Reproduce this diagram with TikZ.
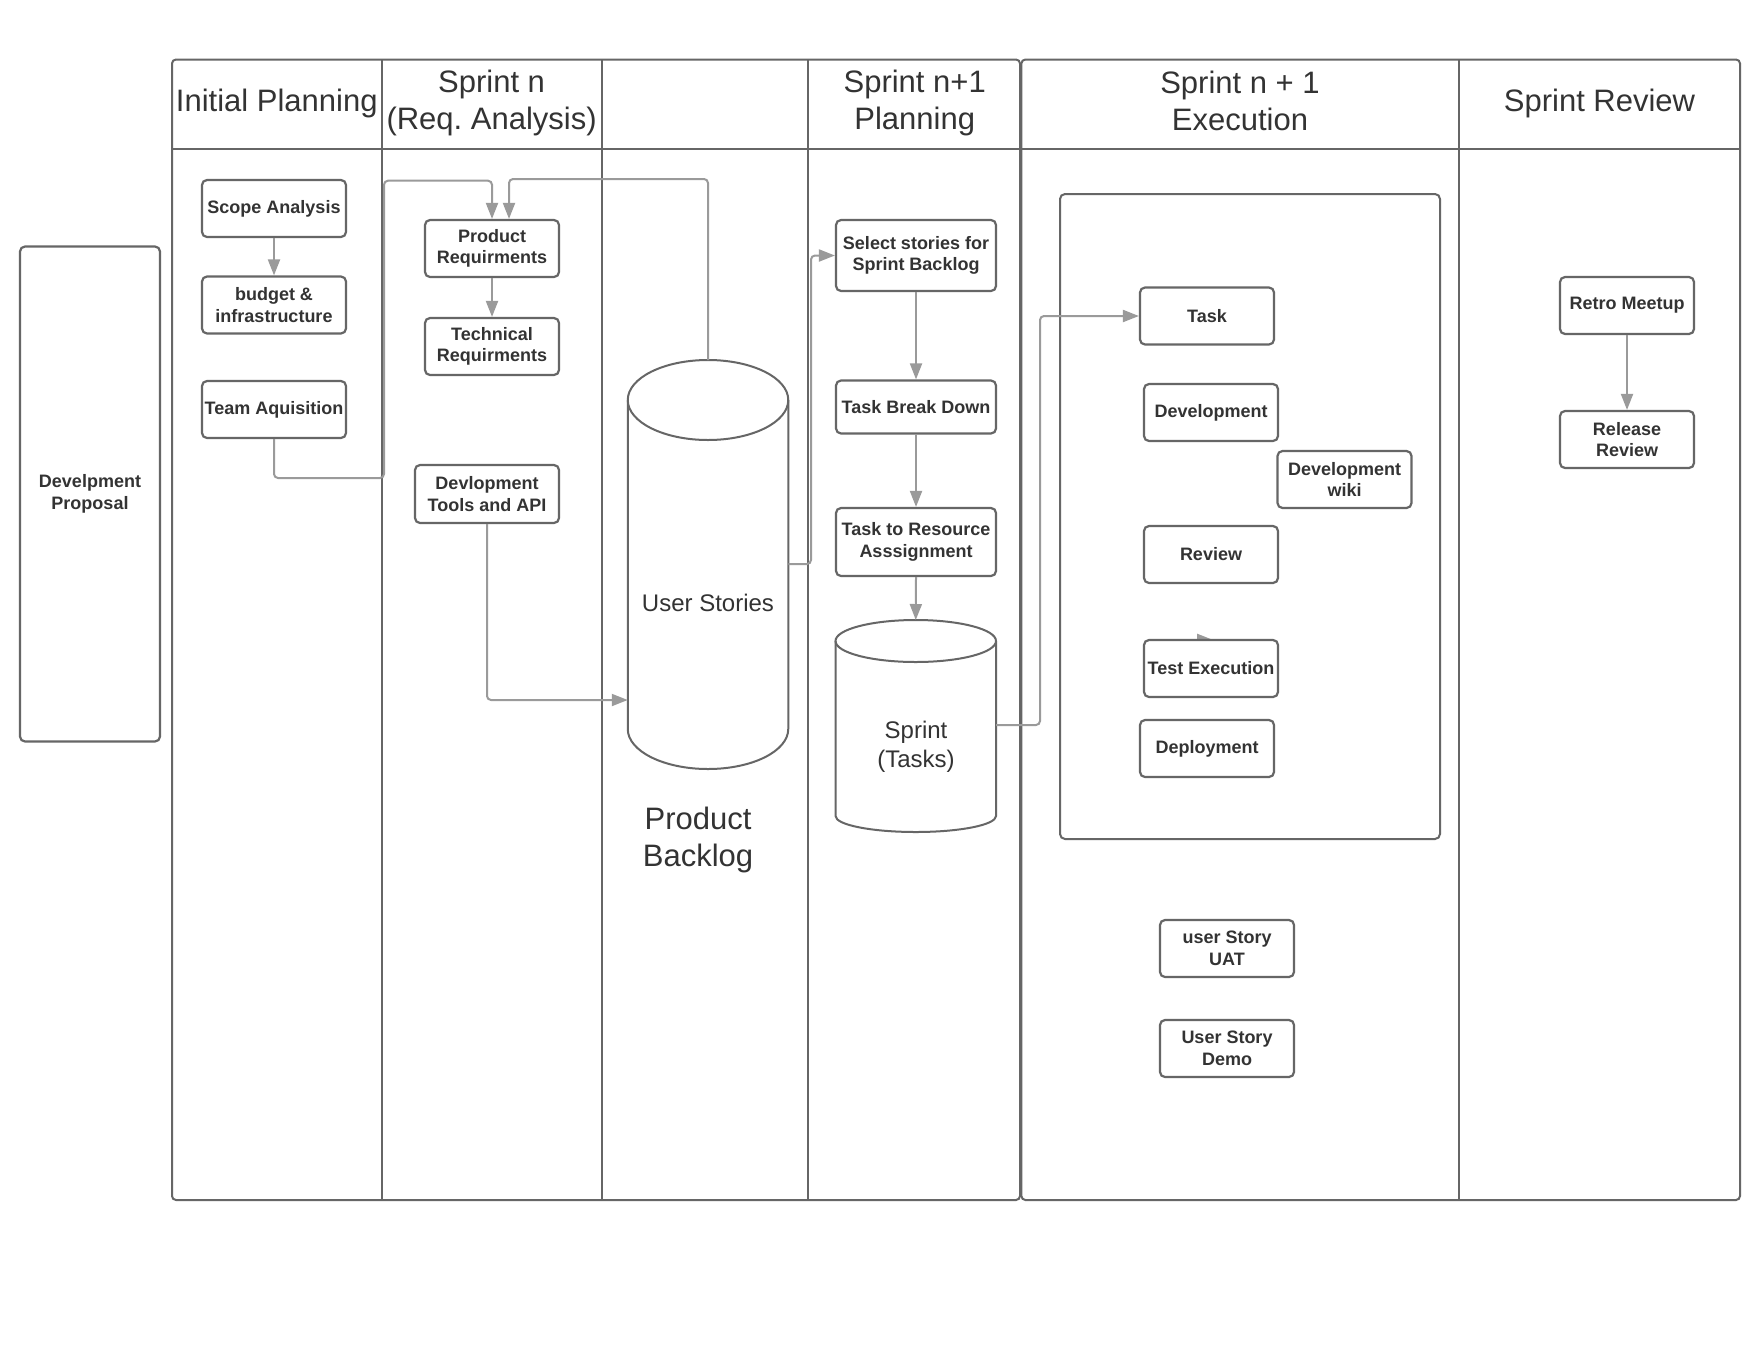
\documentclass[tikz,border=0pt]{standalone}
\usepackage{fontspec}
\setmainfont{Liberation Sans}
\usetikzlibrary{arrows.meta,backgrounds}

\definecolor{boxgray}{HTML}{666666}
\definecolor{linkgray}{HTML}{9A9A9A}
\definecolor{textgray}{HTML}{333333}

\tikzset{
  procbox/.style={draw=boxgray, line width=2.2pt, rounded corners=5pt, fill=white,
    align=center, text=textgray, font=\bfseries\fontsize{18}{21.5}\selectfont,
    inner sep=0pt, minimum width=134pt, minimum height=57pt},
  lanehead/.style={align=center, text=textgray, font=\fontsize{31}{37}\selectfont},
  storetext/.style={align=center, text=textgray, font=\fontsize{24}{29}\selectfont},
  lane/.style={draw=boxgray, line width=2pt},
  flow/.style={draw=linkgray, line width=2pt, rounded corners=4pt,
    -{Triangle[length=16pt,width=12pt]}},
}

\begin{document}
\begin{tikzpicture}[x=1pt, y=-1pt]
        \useasboundingbox (0,0) rectangle (1760,1360);
        % Draw pools and lanes
        \draw[lane, rounded corners=4pt] (172,59.5) rectangle (1020,1200);
        \draw[lane, rounded corners=4pt] (1021.4,59.5) rectangle (1740,1200);
        \foreach \x in {381.6,601.6,808,1459} {
            \draw[lane] (\x,59.5) -- (\x,1200);
        }
        \draw[lane] (172,149) -- (1740,149);
        % Lane headers
        \node[lanehead] (hinit) at (276.8,103.2) {Initial Planning};
        \node[lanehead] (hsprint) at (491.6,103.2) {Sprint n\\(Req.\ Analysis)};
        \node[lanehead] (hplan) at (914.7,103.2) {Sprint n+1\\Planning};
        \node[lanehead] (hexec) at (1240,101) {Sprint n + 1\\Execution};
        \node[lanehead] (hreview) at (1599.5,103.2) {Sprint Review};
        % Proposal
        \node[procbox, minimum width=140pt, minimum height=495pt] (proposal) at (90,494) {Develpment\\Proposal};
        % Initial planning
        \node[procbox, minimum width=144pt] (scope) at (274,208.5) {Scope Analysis};
        \node[procbox, minimum width=144pt] (budget) at (274,305) {budget \&\\infrastructure};
        \node[procbox, minimum width=144pt] (team) at (274,409.5) {Team Aquisition};
        % Requirement analysis
        \node[procbox] (prodreq) at (492,248.5) {Product\\Requirments};
        \node[procbox] (techreq) at (492,346.5) {Technical\\Requirments};
        \node[procbox, minimum width=144pt, minimum height=58pt] (devtools) at (487,494) {Devlopment\\Tools and API};
        % Product backlog store
        \draw[lane] (708,400) ellipse [x radius=80.25, y radius=40];
        \draw[lane] (627.75,400) -- (627.75,729) arc [start angle=180, end angle=0, x radius=80.25, y radius=40] -- (788.25,400);
        \node[storetext] (stories) at (708,603) {User Stories};
        \node[lanehead] (backlog) at (698,839.5) {Product\\Backlog};
        \coordinate (storiestop) at (708,360);
        \coordinate (storiesleft) at (627.75,700);
        \coordinate (storiesright) at (788.25,564);
        % Sprint planning
        \node[procbox, minimum width=160pt, minimum height=71pt] (select) at (916,255.5) {Select stories for\\Sprint Backlog};
        \node[procbox, minimum width=160pt, minimum height=53pt] (breakdown) at (916,407) {Task Break Down};
        \node[procbox, minimum width=160pt, minimum height=68pt] (assign) at (916,542) {Task to Resource\\Asssignment};
        % Sprint store
        \draw[lane] (915.75,641) ellipse [x radius=80.25, y radius=21];
        \draw[lane] (835.5,641) -- (835.5,816) arc [start angle=180, end angle=0, x radius=80.25, y radius=16] -- (996,641);
        \node[storetext] (sprint) at (916,747) {Sprint\\(Tasks)};
        \coordinate (sprinttop) at (915.75,620);
        \coordinate (sprintright) at (996,725);
        % Sprint execution
        \draw[lane, rounded corners=5pt] (1060,194) rectangle (1440,839);
        \node[procbox] (task) at (1207,316) {Task};
        \node[procbox] (develop) at (1211,412.5) {Development};
        \node[procbox] (wiki) at (1344.5,479.5) {Development\\wiki};
        \node[procbox] (review) at (1211,554.5) {Review};
        \node[procbox] (testexec) at (1211,668.5) {Test Execution};
        \node[procbox] (deploy) at (1207,748.5) {Deployment};
        \node[procbox] (uat) at (1227,948.5) {user Story\\UAT};
        \node[procbox] (demo) at (1227,1048.5) {User Story\\Demo};
        % Sprint review
        \node[procbox] (retro) at (1627,305.5) {Retro Meetup};
        \node[procbox] (release) at (1627,439.5) {Release\\Review};
        % Connectors
        \draw[flow] (scope) -- (budget);
        \draw[flow] (team.south) |- (384,478) |- (492,180.7) -- (prodreq.north);
        \draw[flow] (storiestop) |- (509,179) -- ([xshift=17pt]prodreq.north);
        \draw[flow] (prodreq) -- (techreq);
        \draw[flow] (devtools.south) |- (storiesleft);
        \draw[flow] (storiesright) -| (811,255.5) -- (select.west);
        \draw[flow] (select) -- (breakdown);
        \draw[flow] (breakdown) -- (assign);
        \draw[flow] (assign.south) -- (sprinttop);
        \draw[flow] (sprintright) -| (1040,316) -- (task.west);
        \draw[flow] (retro) -- (release);
        \begin{scope}[on background layer]
            \fill[white] (0,0) rectangle (1760,1360);
            \draw[flow] ([xshift=-15pt,yshift=-1pt]testexec.north) -- ([xshift=2pt,yshift=-1pt]testexec.north);
        \end{scope}
\end{tikzpicture}
\end{document}
